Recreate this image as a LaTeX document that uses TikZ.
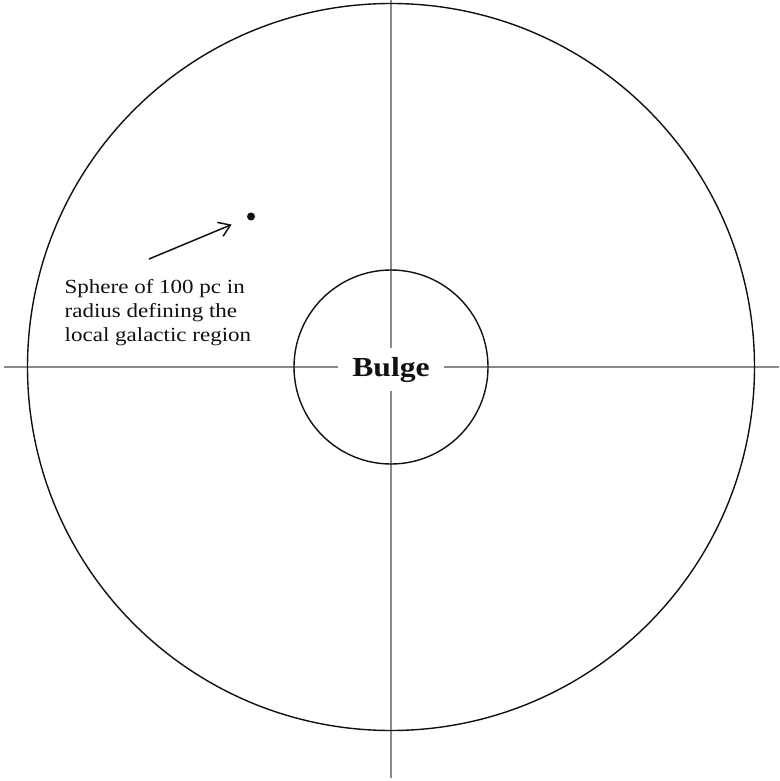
\documentclass[tikz,border=0pt]{standalone}
\usepackage{fontspec}
\setmainfont{Liberation Serif}
\newfontfamily\widefont[FakeStretch=1.15]{Liberation Serif}
\usetikzlibrary{arrows.meta,calc,positioning}
\definecolor{cInk}{HTML}{111111}
\definecolor{cAxis}{HTML}{8A8A8A}
\tikzset{
  every node/.style={text=cInk},
  ring/.style={draw=cInk, line width=1.4pt},
  axis/.style={draw=cAxis, line width=2pt},
  blab/.style={fill=white, inner sep=0pt, minimum width=106pt, minimum height=43pt, font=\widefont\fontsize{27.5}{30}\selectfont\bfseries},
  note/.style={align=left, anchor=north west, inner sep=0pt, font=\widefont\fontsize{20}{24}\selectfont},
  arr/.style={-{Straight Barb[length=11pt,width=15pt]}, line width=1.5pt, draw=cInk},
}
\begin{document}
\begin{tikzpicture}[x=1pt,y=-1pt]
\useasboundingbox (0,0) rectangle (779,781);
% axes through the galactic centre
\coordinate (C) at (391,367);
\coordinate (axW) at (4,367);
\coordinate (axE) at (779,367);
\coordinate (axN) at (391,0);
\coordinate (axS) at (391,778);
\draw[axis] (axW) -- (axE);
\draw[axis] (axN) -- (axS);
% disc and bulge
\draw[ring] (C) circle[radius=363.5];
\draw[ring] (C) circle[radius=97];
\node[blab] (bulge) at (391,369.5) {Bulge};
% local region marker
\node[circle, fill=cInk, inner sep=0pt, minimum size=8pt] (dot) at (251,216.5) {};
\coordinate (tail) at (149,259);
\draw[arr] (tail) -- ($(dot)!0.19!(tail)$);
\node[note] (lab) at (64.5,279) {Sphere of 100 pc in\\radius defining the\\local galactic region};
\end{tikzpicture}
\end{document}
